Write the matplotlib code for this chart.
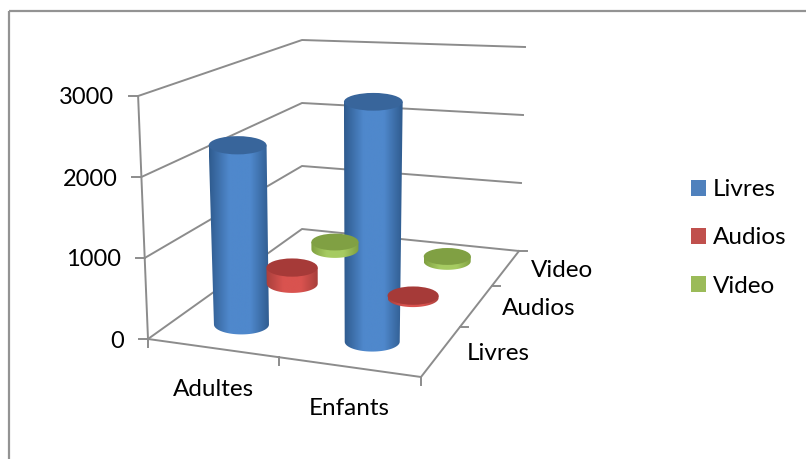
#!/usr/bin/env python3
# -*- coding: utf-8 -*-
import numpy as np
import matplotlib
matplotlib.use('Agg')
import matplotlib.pyplot as plt
from matplotlib.colors import LinearSegmentedColormap
from matplotlib.patches import Ellipse, Patch, PathPatch, Rectangle
from matplotlib.path import Path

# DATA
categories = ['Adultes', 'Enfants']
series_names = ['Livres', 'Audios', 'Video']
livres = [2250, 2890]
audios = [220, 30]
video = [110, 70]
value_ticks = [0, 1000, 2000, 3000]

# STYLES : dark edge, light middle, top face, legend colour
styles = {
    'Livres': ('#2f5b8e', '#4f88cc', '#38659b', '#4f81bd'),
    'Audios': ('#a83f3c', '#d9534f', '#a63a38', '#c0504d'),
    'Video': ('#7f9f40', '#a6cb62', '#80a043', '#9bbb59'),
}
GRID = '#8c8c8c'

plt.rcParams['font.family'] = ['Lato', 'DejaVu Sans']

# floor corners in pixels : front left, front right, back right, back left
floor_px = [(148, 339), (421, 377), (519, 251), (302, 229)]
floor_uv = [(0, 0), (1, 0), (1, 1), (0, 1)]
# pixels per 1000 and sideways drift per 1000 at the same corners
rise = [81, 88, 68, 63]
drift = [-3.3, 1.3, 2.0, 0.0]


def floor_matrix():
    a, b = [], []
    for (u, v), (x, y) in zip(floor_uv, floor_px):
        a.append([u, v, 1, 0, 0, 0, -u * x, -v * x])
        a.append([0, 0, 0, u, v, 1, -u * y, -v * y])
        b += [x, y]
    return np.append(np.linalg.solve(np.array(a, float), np.array(b, float)), 1).reshape(3, 3)


H = floor_matrix()


def bilinear(c, u, v):
    return (c[0] * (1 - u) * (1 - v) + c[1] * u * (1 - v)
            + c[2] * u * v + c[3] * (1 - u) * v)


def project(u, v, value=0):
    x, y, w = H @ np.array([u, v, 1.0])
    k = value / 1000.0
    return x / w + bilinear(drift, u, v) * k, y / w - bilinear(rise, u, v) * k


def cylinder(ax, u, v, value, name):
    dark, light, top_col, _ = styles[name]
    x0, y0 = project(u, v, 0)
    x1, y1 = project(u, v, value)
    rx0 = 28.5 - 6 * v
    rx1 = rx0 * (1 + 0.07 * value / 3000)
    ry0 = rx0 * 0.36
    ry1 = rx1 * (0.36 - 0.06 * value / 3000)

    t = np.linspace(0, np.pi, 40)
    bottom = np.c_[x0 + rx0 * np.cos(t), y0 + ry0 * np.sin(t)]
    top = np.c_[x1 - rx1 * np.cos(t), y1 + 0 * t]
    path = Path(np.vstack([bottom, top, bottom[:1]]), closed=True)

    cmap = LinearSegmentedColormap.from_list(name, [(0, dark), (0.33, light), (0.68, light), (1, dark)])
    grad = np.linspace(0, 1, 200).reshape(1, -1)
    im = ax.imshow(grad, cmap=cmap, aspect='auto', zorder=3 + v,
                   extent=(min(x0 - rx0, x1 - rx1), max(x0 + rx0, x1 + rx1), y0 + ry0 + 1, y1 - ry1 - 1))
    im.set_clip_path(PathPatch(path, transform=ax.transData))

    ax.add_patch(Ellipse((x1, y1), 2 * rx1, 2 * ry1, facecolor=top_col, edgecolor='none',
                         zorder=3.001 + v))


fig, ax = plt.subplots(figsize=(8.06, 4.59), dpi=100)
fig.subplots_adjust(0, 0, 1, 1)
ax.axis('off')

# outer frame, it runs off the picture on the right and at the bottom
ax.add_patch(Rectangle((8.5, 10.5), 820, 470, fill=False, edgecolor='#939393', lw=1.6, zorder=1))

# walls and floor
u_back = [0, 0, 1]
v_back = [0, 1, 1]
for val in value_ticks:
    pts = [project(u, v, val) for u, v in zip(u_back, v_back)]
    ax.plot(*zip(*pts), color=GRID, lw=1.4, zorder=2)
    x, y = project(0, 0, val)
    ax.plot([x - 9, x], [y, y], color=GRID, lw=1.4, zorder=2)
    ax.text(x - 24, y + 2, str(val), ha='right', va='center', fontsize=17, color='black')
ax.plot(*zip(*[project(0, 0, v) for v in (0, 3000)]), color=GRID, lw=1.4, zorder=2)
ax.plot(*zip(*[project(u, v) for u, v in [(0, 0), (1, 0), (1, 1)]]), color=GRID, lw=1.4, zorder=2)

# category ticks and labels
for u in (0, 0.5, 1):
    x, y = project(u, 0)
    ax.plot([x, x], [y, y + 8], color=GRID, lw=1.4, zorder=2)
for i, c in enumerate(categories):
    x, y = project(0.25 + 0.5 * i, 0)
    ax.text(x + 1, y + 42, c, ha='center', va='center', fontsize=17.5, color='black')

# series ticks and labels
for v in (1 / 3, 2 / 3, 1):
    x, y = project(1, v)
    ax.plot([x, x + 8], [y, y], color=GRID, lw=1.4, zorder=2)
for j, s in enumerate(series_names):
    x, y = project(1, 1 / 6 + j / 3)
    ax.text(x + 25, y + 3, s, ha='left', va='center', fontsize=17.5, color='black')

# cylinders, back row first
rows = [livres, audios, video]
for j in range(2, -1, -1):
    for i in range(len(categories)):
        cylinder(ax, 0.25 + 0.5 * i, 1 / 6 + j / 3, rows[j][i], series_names[j])

handles = [Patch(facecolor=styles[s][3], edgecolor='none', label=s) for s in series_names]
ax.legend(handles=handles, loc='center left', bbox_to_anchor=(691 / 806, 1 - 238 / 459),
          frameon=False, fontsize=17.5, handlelength=0.62, handleheight=0.62,
          handletextpad=0.29, labelspacing=1.12, borderpad=0, borderaxespad=0)

ax.set_xlim(0, 806)
ax.set_ylim(459, 0)
fig.savefig('out.png', dpi=100)
